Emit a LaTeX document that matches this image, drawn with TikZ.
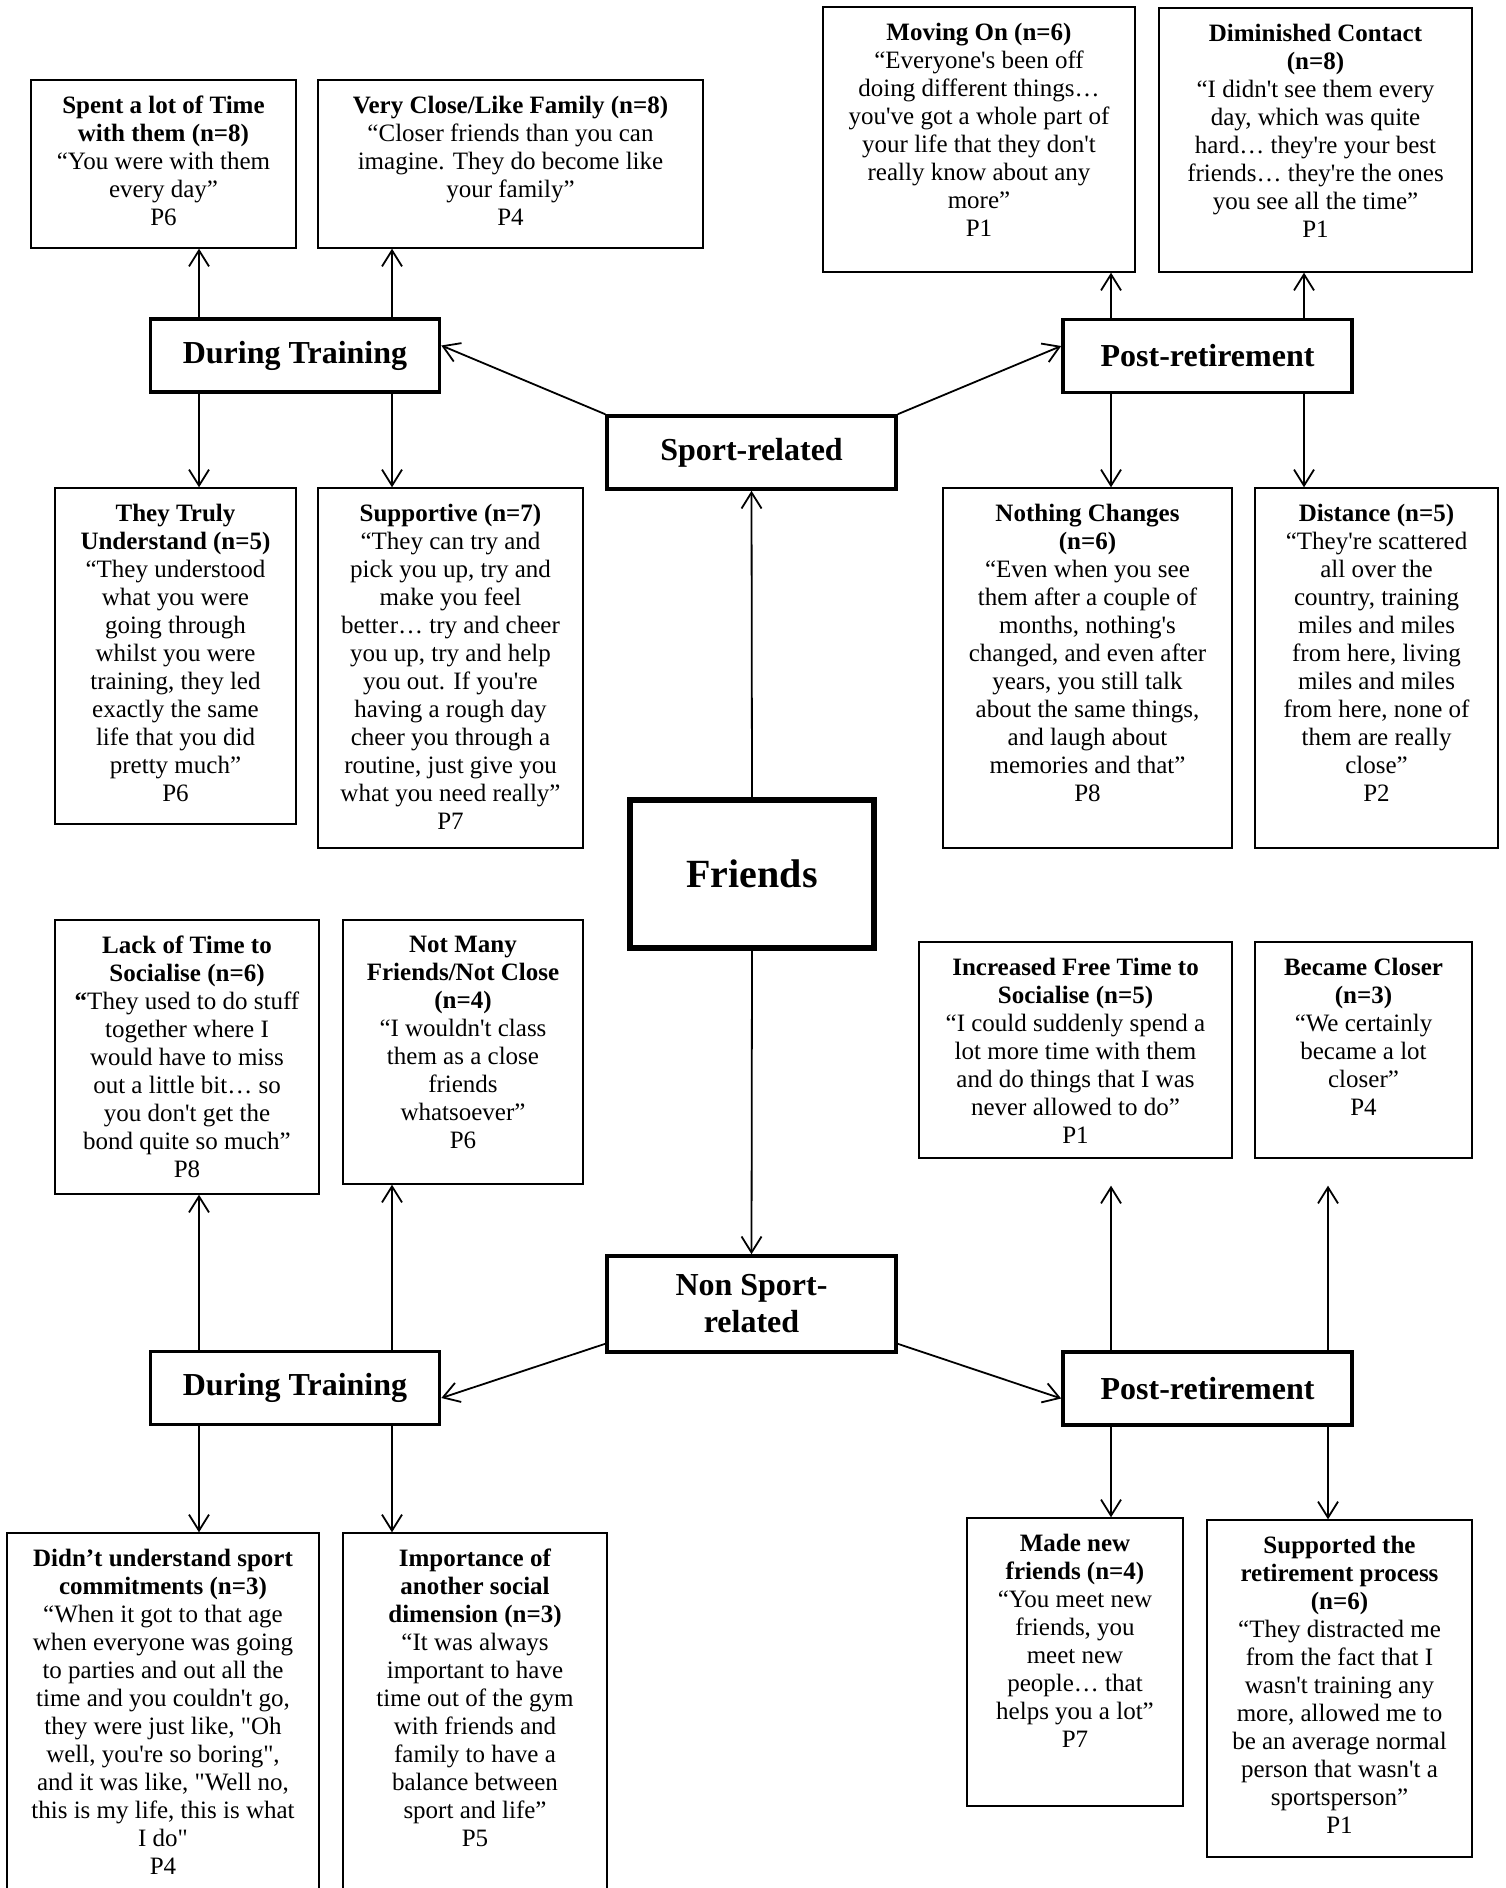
\documentclass[tikz,border=0pt]{standalone}
\usepackage{fontspec}
\setmainfont{Liberation Serif}[Ligatures=TeXOff]
\usetikzlibrary{arrows.meta}

\begin{document}
\begin{tikzpicture}[x=0.5pt,y=-0.5pt,
	leaf/.style={draw,rectangle,line width=0.7pt,inner sep=0pt},
	leaftext/.style={anchor=north,align=center,inner sep=0pt,yshift=-8pt,
		font=\fontsize{12.5}{14}\selectfont},
	theme/.style={draw,rectangle,line width=1.8pt,inner sep=0pt,align=center,
		font=\bfseries\fontsize{16}{18.5}\selectfont,
		minimum width=144.5pt,minimum height=36.5pt},
	link/.style={line width=0.9pt,-{Straight Barb[length=8pt,width=10pt]}}]
				\useasboundingbox (0,0) rectangle (1505,1888);
				
				\node [draw,
				line width=2.6pt,
				font=\bfseries\fontsize{20}{24}\selectfont,
				minimum width=122pt,
				minimum height=74pt] (friends) at (752,874){Friends};
				
				\node [theme] (sport) at (751.5,452.5){Sport-related};
				\node [theme, minimum height=48pt] (nonsport) at (751.5,1304){Non Sport-\\related};
				\node [theme] (dtsport) at (295,355.5){During Training};
				\node [theme] (prsport) at (1207.5,356){Post-retirement};
				\node [theme] (dtnon) at (295,1388){During Training};
				\node [theme] (prnon) at (1207.5,1388.5){Post-retirement};
				
				\node [leaf,
				minimum width=132.5pt,
				minimum height=84pt,
				label={[leaftext]north:{\textbf{Spent a lot of Time}\\\textbf{with them (n=8)}\\“You were with them\\every day”\\P6}}] (spent) at (163.5,164){};
				
				\node [leaf,
				minimum width=192.5pt,
				minimum height=84pt,
				label={[leaftext]north:{\textbf{Very Close/Like Family (n=8)}\\“Closer friends than you can\\imagine. They do become like\\your family”\\P4}}] (family) at (510.5,164){};
				
				\node [leaf,
				minimum width=156pt,
				minimum height=132.5pt,
				label={[leaftext]north:{\textbf{Moving On (n=6)}\\“Everyone's been off\\doing different things…\\you've got a whole part of\\your life that they don't\\really know about any\\more”\\P1}}] (movingon) at (979,139.5){};
				
				\node [leaf,
				minimum width=156.5pt,
				minimum height=132pt,
				label={[leaftext]north:{\textbf{Diminished Contact}\\\textbf{(n=8)}\\“I didn't see them every\\day, which was quite\\hard… they're your best\\friends… they're the ones\\you see all the time”\\P1}}] (diminished) at (1315.5,140){};
				
				\node [leaf,
				minimum width=120.5pt,
				minimum height=168pt,
				label={[leaftext]north:{\textbf{They Truly}\\\textbf{Understand (n=5)}\\“They understood\\what you were\\going through\\whilst you were\\training, they led\\exactly the same\\life that you did\\pretty much”\\P6}}] (understand) at (175.5,656){};
				
				\node [leaf,
				minimum width=132.5pt,
				minimum height=180pt,
				label={[leaftext]north:{\textbf{Supportive (n=7)}\\“They can try and\\pick you up, try and\\make you feel\\better… try and cheer\\you up, try and help\\you out. If you're\\having a rough day\\cheer you through a\\routine, just give you\\what you need really”\\P7}}] (supportive) at (450.5,668){};
				
				\node [leaf,
				minimum width=144.5pt,
				minimum height=180pt,
				label={[leaftext]north:{\textbf{Nothing Changes}\\\textbf{(n=6)}\\“Even when you see\\them after a couple of\\months, nothing's\\changed, and even after\\years, you still talk\\about the same things,\\and laugh about\\memories and that”\\P8}}] (nochange) at (1087.5,668){};
				
				\node [leaf,
				minimum width=121.5pt,
				minimum height=180pt,
				label={[leaftext]north:{\textbf{Distance (n=5)}\\“They're scattered\\all over the\\country, training\\miles and miles\\from here, living\\miles and miles\\from here, none of\\them are really\\close”\\P2}}] (distance) at (1376.5,668){};
				
				\node [leaf,
				minimum width=132pt,
				minimum height=137pt,
				label={[leaftext]north:{\textbf{Lack of Time to}\\\textbf{Socialise (n=6)}\\\textbf{“}They used to do stuff\\together where I\\would have to miss\\out a little bit… so\\you don't get the\\bond quite so much”\\P8}}] (lacktime) at (187,1057){};
				
				\node [leaf,
				minimum width=120pt,
				minimum height=132pt,
				label={[leaftext]north:{\textbf{Not Many}\\\textbf{Friends/Not Close}\\\textbf{(n=4)}\\“I wouldn't class\\them as a close\\friends\\whatsoever”\\P6}}] (notmany) at (463,1052){};
				
				\node [leaf,
				minimum width=156.5pt,
				minimum height=108pt,
				label={[leaftext]north:{\textbf{Increased Free Time to}\\\textbf{Socialise (n=5)}\\“I could suddenly spend a\\lot more time with them\\and do things that I was\\never allowed to do”\\P1}}] (freetime) at (1075.5,1050){};
				
				\node [leaf,
				minimum width=108.5pt,
				minimum height=108pt,
				label={[leaftext]north:{\textbf{Became Closer}\\\textbf{(n=3)}\\“We certainly\\became a lot\\closer”\\P4}}] (closer) at (1363.5,1050){};
				
				\node [leaf,
				minimum width=156pt,
				minimum height=183.5pt,
				label={[leaftext]north:{\textbf{Didn’t understand sport}\\\textbf{commitments (n=3)}\\“When it got to that age\\when everyone was going\\to parties and out all the\\time and you couldn't go,\\they were just like, "Oh\\well, you're so boring",\\and it was like, "Well no,\\this is my life, this is what\\I do"\\P4}}] (commit) at (163,1716.5){};
				
				\node [leaf,
				minimum width=132pt,
				minimum height=183.5pt,
				label={[leaftext]north:{\textbf{Importance of}\\\textbf{another social}\\\textbf{dimension (n=3)}\\“It was always\\important to have\\time out of the gym\\with friends and\\family to have a\\balance between\\sport and life”\\P5}}] (importance) at (475,1716.5){};
				
				\node [leaf,
				minimum width=108pt,
				minimum height=144pt,
				label={[leaftext]north:{\textbf{Made new}\\\textbf{friends (n=4)}\\“You meet new\\friends, you\\meet new\\people… that\\helps you a lot”\\P7}}] (newfriends) at (1075,1662){};
				
				\node [leaf,
				minimum width=132.5pt,
				minimum height=168.5pt,
				label={[leaftext]north:{\textbf{Supported the}\\\textbf{retirement process}\\\textbf{(n=6)}\\“They distracted me\\from the fact that I\\wasn't training any\\more, allowed me to\\be an average normal\\person that wasn't a\\sportsperson”\\P1}}] (supported) at (1339.5,1688.5){};
				
				\coordinate (colA) at (199,0);
				\coordinate (colB) at (392,0);
				\coordinate (colC) at (1111,0);
				\coordinate (colD) at (1304,0);
				\coordinate (colE) at (1328,0);
				
				\draw [link] (friends.north) -- (sport.south);
				\draw [link] (friends.south) -- (nonsport.north);
				\draw [link] (sport.north west) -- ([yshift=5pt]dtsport.east);
				\draw [link] (sport.north east) -- ([yshift=5pt]prsport.west);
				\draw [link] ([yshift=5pt]nonsport.south west) -- ([yshift=-5pt]dtnon.east);
				\draw [link] ([yshift=5pt]nonsport.south east) -- ([yshift=-5pt]prnon.west);
				
				\draw [link] (colA |- dtsport.north) -- (colA |- spent.south);
				\draw [link] (colB |- dtsport.north) -- (colB |- family.south);
				\draw [link] (colA |- dtsport.south) -- (colA |- understand.north);
				\draw [link] (colB |- dtsport.south) -- (colB |- supportive.north);
				\draw [link] (colC |- prsport.north) -- (colC |- movingon.south);
				\draw [link] (colD |- prsport.north) -- (colD |- diminished.south);
				\draw [link] (colC |- prsport.south) -- (colC |- nochange.north);
				\draw [link] (colD |- prsport.south) -- (colD |- distance.north);
				
				\draw [link] (colA |- dtnon.north) -- (colA |- lacktime.south);
				\draw [link] (colB |- dtnon.north) -- (colB |- notmany.south);
				\draw [link] (colA |- dtnon.south) -- (colA |- commit.north);
				\draw [link] (colB |- dtnon.south) -- (colB |- importance.north);
				\draw [link, shorten >=13.5pt] (colC |- prnon.north) -- (colC |- freetime.south);
				\draw [link, shorten >=13.5pt] (colE |- prnon.north) -- (colE |- closer.south);
				\draw [link] (colC |- prnon.south) -- (colC |- newfriends.north);
				\draw [link] (colE |- prnon.south) -- (colE |- supported.north);
			\end{tikzpicture}
\end{document}
